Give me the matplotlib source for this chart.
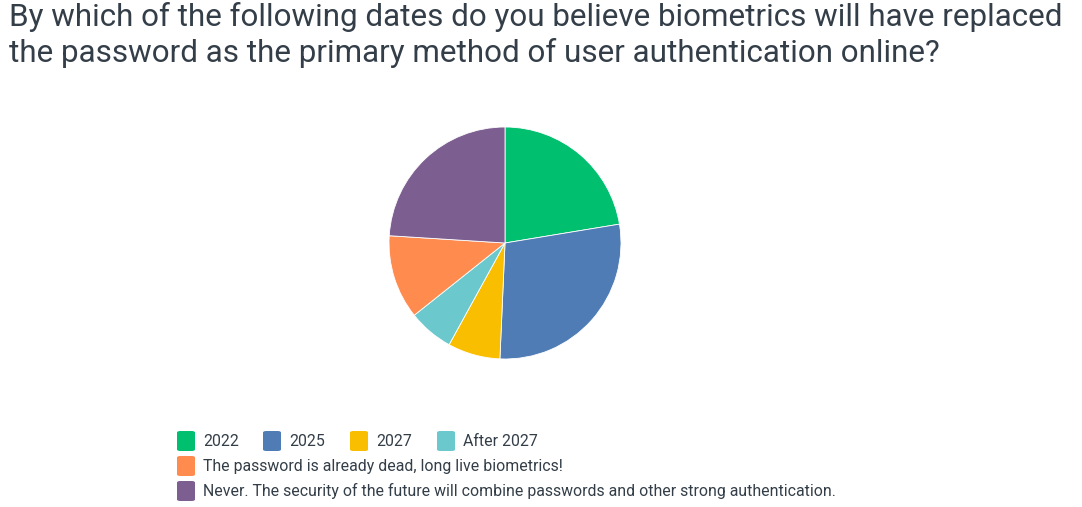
import matplotlib.pyplot as plt
from matplotlib.patches import FancyBboxPatch

titulo = "By which of the following dates do you believe biometrics will have replaced\nthe password as the primary method of user authentication online?"
etiquetas = ["2022", "2025", "2027", "After 2027",
             "The password is already dead, long live biometrics!",
             "Never. The security of the future will combine passwords and other strong authentication."]
valores = [22.4, 28.3, 7.3, 6.3, 11.7, 24.0]
colores = ["#00BF6F", "#507CB6", "#F9BE00", "#6BC8CD", "#FF8B4F", "#7D5E90"]

# posiciones de la leyenda (px): x del cuadrado, y del centro
ley_x = [177, 263, 350, 437, 177, 177]
ley_y = [441, 441, 441, 441, 466, 491]

W, H = 1082, 507
fig = plt.figure(figsize=(W/100, H/100), dpi=100)
plt.rcParams['font.family'] = ['Roboto', 'DejaVu Sans']

cx, cy, r = 505, 243, 116
ax = fig.add_axes([(cx-r)/W, (H-cy-r)/H, 2*r/W, 2*r/H])
ax.pie(valores, colors=colores, startangle=90, counterclock=False,
       wedgeprops=dict(edgecolor='white', linewidth=0.6))
ax.set_xlim(-1, 1)
ax.set_ylim(-1, 1)
ax.set_aspect('equal')
ax.axis('off')

fig.text(9/W, 1-2/H, titulo, fontsize=22.6, color='#333E48', va='top', ha='left',
         linespacing=1.27)

for et, col, x, y in zip(etiquetas, colores, ley_x, ley_y):
    p = FancyBboxPatch((x/W, (H-y-10)/H), 18/W, 20/H,
                       boxstyle="round,pad=0,rounding_size=0.003",
                       transform=fig.transFigure, facecolor=col, edgecolor='none')
    fig.patches.append(p)
    fig.text((x+26)/W, (H-y)/H, et, fontsize=11.45, color='#333E48', va='center', ha='left')

plt.savefig("out.png", dpi=100)
